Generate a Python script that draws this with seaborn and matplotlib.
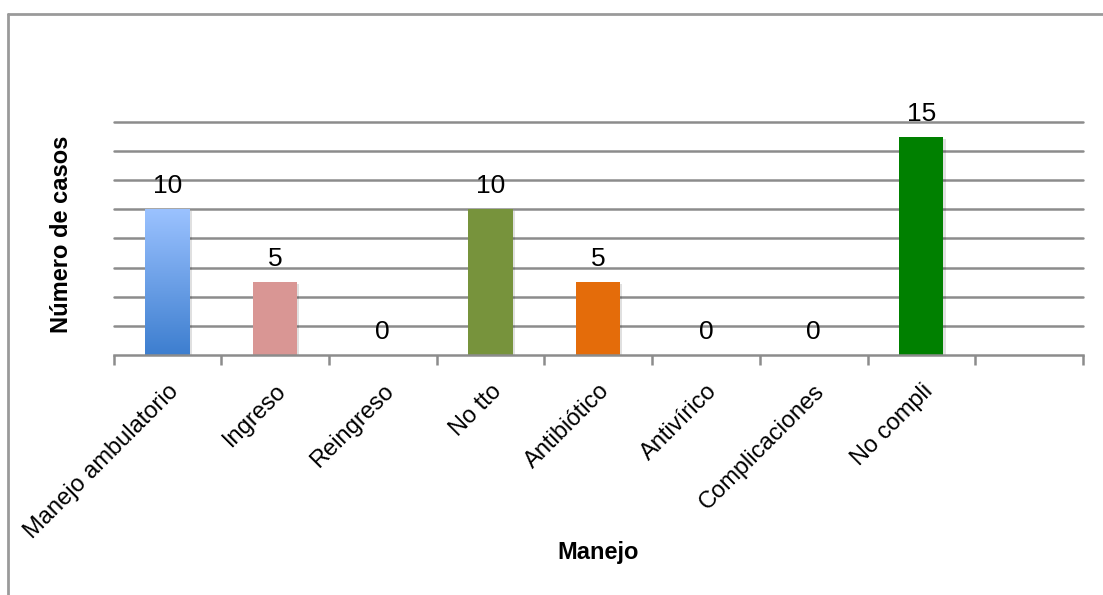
import numpy as np
import matplotlib
matplotlib.use("Agg")
import matplotlib.pyplot as plt
from matplotlib import font_manager
from matplotlib.lines import Line2D
from matplotlib.colors import LinearSegmentedColormap
from matplotlib.transforms import ScaledTranslation
import matplotlib.patheffects as pe
import seaborn as sns

# Chart data
categories = ["Manejo ambulatorio", "Ingreso", "Reingreso", "No tto",
              "Antibiótico", "Antivírico", "Complicaciones", "No compli"]
casos = [10, 5, 0, 10, 5, 0, 0, 15]
bar_colors = ["#6FA0E6", "#D99694", "#9E9E9E", "#77933C",
              "#E46C0A", "#9E9E9E", "#9E9E9E", "#008000"]
x_title = "Manejo"
y_title = "Número de casos"

sns.set_theme(style="white")
available = {f.name for f in font_manager.fontManager.ttflist}
narrow = "Liberation Sans Narrow" if "Liberation Sans Narrow" in available else "Liberation Sans"
plt.rcParams["font.family"] = [narrow, "DejaVu Sans"]

fig = plt.figure(figsize=(11.03, 5.95), dpi=100)
ax = fig.add_axes([113.5 / 1103, 1 - 355 / 595, (1083 - 113.5) / 1103, (355 - 122) / 595])

sns.barplot(x=categories, y=casos, hue=categories, palette=dict(zip(categories, bar_colors)),
            width=0.41, legend=False, saturation=1, ax=ax, zorder=3)

shadow = [pe.SimplePatchShadow(offset=(1.5, -1.5), shadow_rgbFace="#000000", alpha=0.12), pe.Normal()]
for p in ax.patches:
    p.set_path_effects(shadow)
    p.set_linewidth(0)

# vertical gradient on the first bar
first = ax.patches[0]
x0, w = first.get_x(), first.get_width()
h = first.get_height()
grad = LinearSegmentedColormap.from_list("g", ["#3D7ECF", "#9BC2FF"])
img = ax.imshow(np.linspace(0, 1, 256).reshape(-1, 1), cmap=grad, origin="lower",
                extent=[x0, x0 + w, 0, h], aspect="auto", zorder=4)
img.set_clip_path(first)

ax.set_xlim(-0.5, 8.5)
ax.set_ylim(0, 16)
ax.set_yticks(np.arange(2, 17, 2))
ax.set_yticklabels([])
ax.tick_params(axis="y", length=0)
ax.yaxis.grid(True, color="#8C8C8C", linewidth=1.8, zorder=0)
for gl in ax.get_ygridlines():
    gl.set_clip_on(False)
ax.set_axisbelow(True)

for s in ["top", "right", "left"]:
    ax.spines[s].set_visible(False)
ax.spines["bottom"].set_color("#8C8C8C")
ax.spines["bottom"].set_linewidth(1.8)
ax.spines["bottom"].set_zorder(5)

ax.set_xticks(range(len(categories)))
ax.set_xticklabels(categories, rotation=45, ha="right", va="top",
                   rotation_mode="anchor", fontsize=17, color="black")
shift = ScaledTranslation(-4 / 100, 0, fig.dpi_scale_trans)
for lbl in ax.get_xticklabels():
    lbl.set_transform(lbl.get_transform() + shift)
ax.set_xticks(np.arange(-0.5, 8.6, 1), minor=True)
ax.tick_params(axis="x", which="major", length=0, pad=18)
ax.tick_params(axis="x", which="minor", length=7, width=1.8, color="#8C8C8C", direction="out", bottom=True)

for i, v in enumerate(casos):
    ax.text(i, v + 0.75, f"{v}", ha="center", va="bottom", fontsize=19, color="black", zorder=6)

ax.set_xlabel("")
ax.set_ylabel("")
fig.text(598 / 1103, 1 - 553 / 595, x_title, ha="center", va="center",
         fontsize=17, fontweight="bold", color="black")
fig.text(61 / 1103, 1 - 234 / 595, y_title, ha="center", va="center", rotation=90,
         fontsize=17, fontweight="bold", color="black")

# outer chart frame
fig.add_artist(Line2D([8 / 1103, 1.01], [1 - 13.5 / 595] * 2, transform=fig.transFigure,
                      color="#9A9A9A", linewidth=2))
fig.add_artist(Line2D([8 / 1103] * 2, [1 - 13.5 / 595, -0.01], transform=fig.transFigure,
                      color="#9A9A9A", linewidth=2))

fig.savefig("out.png", dpi=100)
